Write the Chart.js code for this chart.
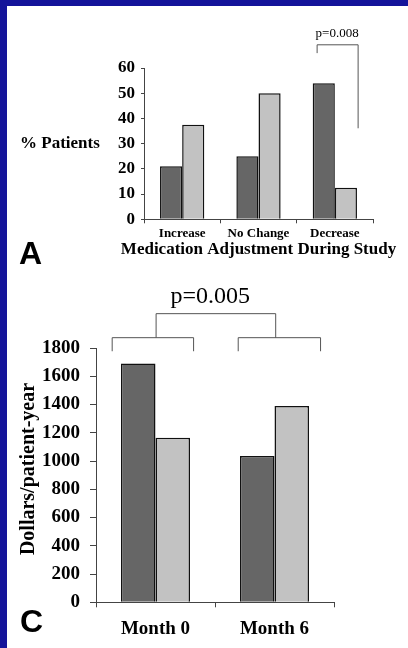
<!DOCTYPE html>
<html>
<head>
<meta charset="utf-8">
<script src="https://cdn.jsdelivr.net/npm/chart.js@4.4.0/dist/chart.umd.min.js"></script>
<style>
    html, body { margin: 0; padding: 0; }
    body { width: 408px; height: 648px; background: #14149a; position: relative; overflow: hidden; }
    #paper { position: absolute; left: 7px; top: 6px; width: 401px; height: 642px; background: #fff; }
    #wrap-a { position: absolute; left: 0; top: 0; width: 401px; height: 260px; }
    #wrap-c { position: absolute; left: 0; top: 260px; width: 401px; height: 382px; }
    .panel { position: absolute; font-family: "Liberation Sans", Arial, sans-serif; font-weight: bold; font-size: 32px; line-height: 32px; color: #000; }
</style>
</head>
<body>
<div id="paper">
    <div id="wrap-a"><canvas id="chart-a"></canvas></div>
    <div id="wrap-c"><canvas id="chart-c"></canvas></div>
    <div class="panel" style="left:12px; top:231px;">A</div>
    <div class="panel" style="left:13px; top:599px;">C</div>
</div>
<script>
// panel A: medication adjustment
const adjustLabels = ['Increase', 'No Change', 'Decrease'];
const adjustDark = [21, 25, 54];
const adjustLight = [37.5, 50, 12.5];
const adjustTicks = [0, 10, 20, 30, 40, 50, 60];

// panel C: cost
const costLabels = ['Month 0', 'Month 6'];
const costDark = [1690, 1035];
const costLight = [1165, 1390];
const costTicks = [0, 200, 400, 600, 800, 1000, 1200, 1400, 1600, 1800];

const serif = '"Liberation Serif", "Times New Roman", serif';
const darkGrey = '#666666';
const lightGrey = '#c2c2c2';

// draws brackets in data coordinates plus a few loose labels
const notesPlugin = {
    id: 'notes',
    afterDraw(chart, args, opts) {
        const ctx = chart.ctx;
        const xs = chart.scales.x;
        const ys = chart.scales.y;
        const area = chart.chartArea;
        ctx.save();
        ctx.strokeStyle = opts.lineColor || '#555';
        ctx.lineWidth = opts.lineWidth || 1;
        (opts.paths || []).forEach(path => {
            ctx.beginPath();
            path.forEach((p, i) => {
                const px = xs.getPixelForValue(p[0]);
                const py = ys.getPixelForValue(p[1]);
                if (i === 0) ctx.moveTo(px, py); else ctx.lineTo(px, py);
            });
            ctx.stroke();
        });
        ctx.fillStyle = '#000';
        ctx.textBaseline = 'middle';
        (opts.texts || []).forEach(t => {
            ctx.font = t.font;
            ctx.textAlign = 'center';
            ctx.fillText(t.text, xs.getPixelForValue(t.x), ys.getPixelForValue(t.y));
        });
        // labels placed in canvas pixels ('mid' = middle of the plot area)
        (opts.free || []).forEach(t => {
            const px = t.x === 'mid' ? (area.left + area.right) / 2 : t.x;
            const py = t.y === 'mid' ? (area.top + area.bottom) / 2 : t.y;
            ctx.save();
            ctx.font = t.font;
            ctx.textAlign = t.align || 'center';
            ctx.translate(px, py);
            if (t.rotate) ctx.rotate(t.rotate);
            ctx.fillText(t.text, 0, 0);
            ctx.restore();
        });
        ctx.restore();
    }
};

function barSet(label, data, color) {
    return {
        label: label,
        data: data,
        backgroundColor: color,
        borderColor: '#111',
        borderWidth: 1.5,
        borderSkipped: 'bottom',
        categoryPercentage: 0.58,
        barPercentage: 1.0
    };
}

new Chart(document.getElementById('chart-a'), {
    type: 'bar',
    data: {
        labels: adjustLabels,
        datasets: [barSet('Group 1', adjustDark, darkGrey), barSet('Group 2', adjustLight, lightGrey)]
    },
    options: {
        responsive: true,
        maintainAspectRatio: false,
        animation: false,
        layout: { padding: { top: 62, right: 35, bottom: 0, left: 0 } },
        plugins: {
            legend: { display: false },
            tooltip: { enabled: false },
            notes: {
                lineColor: '#555',
                paths: [[[1.768, 65.9], [1.768, 69.2], [2.305, 69.2], [2.305, 36.1]]],
                texts: [{ text: 'p=0.008', x: 2.03, y: 73.5, font: '13px ' + serif }],
                free: [
                    { text: '% Patients', x: 13, y: 'mid', align: 'left', font: 'bold 17px ' + serif },
                    { text: 'Medication Adjustment During Study', x: 'mid', y: 243.5, font: 'bold 17px ' + serif }
                ]
            }
        },
        scales: {
            x: {
                afterFit: s => { s.height = 46.7; },
                grid: { display: true, drawOnChartArea: false, drawTicks: true, tickLength: 4, color: '#444' },
                border: { display: true, color: '#444', width: 1 },
                ticks: { color: '#000', padding: 3, font: { family: serif, size: 13, weight: 'bold' } }
            },
            y: {
                min: 0,
                max: 60,
                afterFit: s => { s.width = 137; },
                afterBuildTicks: s => { s.ticks = adjustTicks.map(v => ({ value: v })); },
                grid: { display: true, drawOnChartArea: false, drawTicks: true, tickLength: 3, color: '#444' },
                border: { display: true, color: '#444', width: 1 },
                ticks: { color: '#000', padding: 6, callback: v => String(v), font: { family: serif, size: 17, weight: 'bold' } }
            }
        }
    },
    plugins: [notesPlugin]
});

new Chart(document.getElementById('chart-c'), {
    type: 'bar',
    data: {
        labels: costLabels,
        datasets: [barSet('Group 1', costDark, darkGrey), barSet('Group 2', costLight, lightGrey)]
    },
    options: {
        responsive: true,
        maintainAspectRatio: false,
        animation: false,
        layout: { padding: { top: 82, right: 74, bottom: 0, left: 0 } },
        plugins: {
            legend: { display: false },
            tooltip: { enabled: false },
            notes: {
                lineColor: '#555',
                paths: [
                    [[-0.364, 1777], [-0.364, 1873], [0.32, 1873], [0.32, 1777]],
                    [[0.695, 1777], [0.695, 1873], [1.387, 1873], [1.387, 1777]],
                    [[0.005, 1873], [0.005, 2043], [1.01, 2043], [1.01, 1873]]
                ],
                texts: [{ text: 'p=0.005', x: 0.46, y: 2160, font: '24px ' + serif }],
                free: [
                    { text: 'Dollars/patient-year', x: 21.5, y: 203, rotate: -Math.PI / 2, font: 'bold 20px ' + serif }
                ]
            }
        },
        scales: {
            x: {
                afterFit: s => { s.height = 45.7; },
                grid: { display: true, drawOnChartArea: false, drawTicks: true, tickLength: 5, color: '#444' },
                border: { display: true, color: '#444', width: 1 },
                ticks: { color: '#000', padding: 10, font: { family: serif, size: 19, weight: 'bold' } }
            },
            y: {
                min: 0,
                max: 1800,
                afterFit: s => { s.width = 89; },
                afterBuildTicks: s => { s.ticks = costTicks.map(v => ({ value: v })); },
                grid: { display: true, drawOnChartArea: false, drawTicks: true, tickLength: 6, color: '#444' },
                border: { display: true, color: '#444', width: 1 },
                ticks: { color: '#000', padding: 10, callback: v => String(v), font: { family: serif, size: 19, weight: 'bold' } }
            }
        }
    },
    plugins: [notesPlugin]
});
</script>
</body>
</html>
